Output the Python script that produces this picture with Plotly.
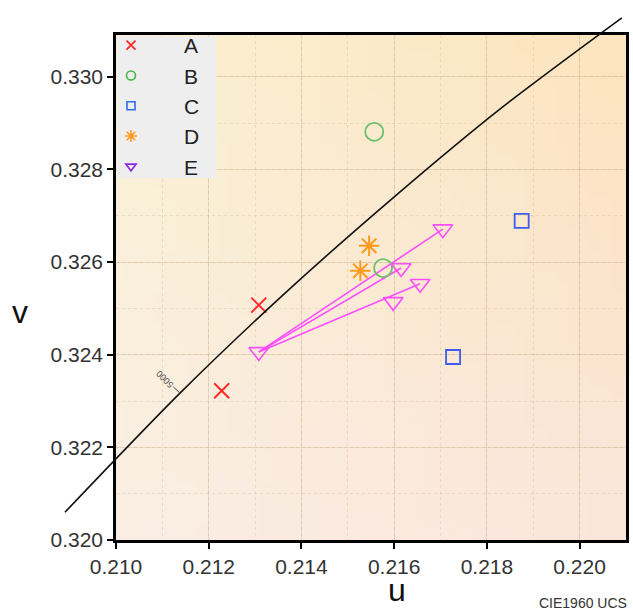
import zlib, struct, base64
import plotly.graph_objects as go

# ---------------- data ----------------
a_u = [0.21228, 0.21308]
a_v = [0.32322, 0.32507]
b_u = [0.21557, 0.21576]
b_v = [0.32881, 0.32587]
c_u = [0.21875, 0.21727]
c_v = [0.32689, 0.32395]
d_u = [0.21546, 0.21527]
d_v = [0.32635, 0.32581]
e_start_u = 0.21308
e_start_v = 0.32406
e_end_u = [0.21705, 0.21615, 0.21656, 0.21598]
e_end_v = [0.32671, 0.32587, 0.32553, 0.32514]
e_linked = [0, 1, 2]          # end points joined to the start point

locus_u = [0.20890, 0.21138, 0.21367, 0.21597, 0.21828, 0.22091]
locus_v = [0.32060, 0.32317, 0.32535, 0.32738, 0.32930, 0.33127]
locus_label = "5000"
locus_label_idx = 1

x_range = [0.210, 0.221]
y_range = [0.320, 0.3309]
x_ticks = [0.210, 0.212, 0.214, 0.216, 0.218, 0.220]
y_ticks = [0.320, 0.322, 0.324, 0.326, 0.328, 0.330]
series_names = ["A", "B", "C", "D", "E"]

# ---------------- layout constants (pixels) ----------------
W, H = 633, 612
PL, PR, PT, PB = 116, 626, 35, 540

FONT = "Liberation Sans, Arial, sans-serif"


def gradient_png(w, h, tl, tr, bl, br):
    rows = []
    for j in range(h):
        fy = j / (h - 1)
        row = bytearray([0])
        for i in range(w):
            fx = i / (w - 1)
            for k in range(3):
                top = tl[k] * (1 - fx) + tr[k] * fx
                bot = bl[k] * (1 - fx) + br[k] * fx
                row.append(int(round(top * (1 - fy) + bot * fy)))
        rows.append(bytes(row))
    raw = b"".join(rows)

    def chunk(t, d):
        return struct.pack(">I", len(d)) + t + d + struct.pack(">I", zlib.crc32(t + d) & 0xffffffff)

    png = (b"\x89PNG\r\n\x1a\n"
           + chunk(b"IHDR", struct.pack(">IIBBBBB", w, h, 8, 2, 0, 0, 0))
           + chunk(b"IDAT", zlib.compress(raw, 9))
           + chunk(b"IEND", b""))
    return "data:image/png;base64," + base64.b64encode(png).decode()


bg_src = gradient_png(48, 48, (250, 241, 211), (252, 228, 190), (250, 238, 228), (251, 229, 219))

RED, GREEN, BLUE, ORANGE, MAGENTA, PURPLE = "#ff2a2a", "#6cc06c", "#3f5cf0", "#ff9a1f", "#ff4dff", "#8a2be2"

fig = go.Figure()

# E arrows
ex, ey = [], []
for i in e_linked:
    ex += [e_start_u, e_end_u[i], None]
    ey += [e_start_v, e_end_v[i], None]
fig.add_trace(go.Scatter(x=ex, y=ey, mode="lines", line=dict(color=MAGENTA, width=1.6),
                         showlegend=False, hoverinfo="skip"))

fig.add_trace(go.Scatter(x=a_u, y=a_v, mode="markers", showlegend=False,
                         marker=dict(symbol="x-thin-open", size=15, color=RED, line=dict(color=RED, width=2))))
fig.add_trace(go.Scatter(x=b_u, y=b_v, mode="markers", showlegend=False,
                         marker=dict(symbol="circle-open", size=18, color=GREEN, line=dict(color=GREEN, width=1.8))))
fig.add_trace(go.Scatter(x=c_u, y=c_v, mode="markers", showlegend=False,
                         marker=dict(symbol="square-open", size=14, color=BLUE, line=dict(color=BLUE, width=1.8))))
fig.add_trace(go.Scatter(x=d_u, y=d_v, mode="markers", showlegend=False,
                         marker=dict(symbol="asterisk-open", size=17, color=ORANGE, line=dict(color=ORANGE, width=2))))
fig.add_trace(go.Scatter(x=[e_start_u] + e_end_u, y=[e_start_v] + e_end_v, mode="markers", showlegend=False,
                         marker=dict(symbol="triangle-down-open", size=17, color=MAGENTA,
                                     line=dict(color=MAGENTA, width=1.6))))

# legend entries
leg_styles = [
    dict(symbol="x-thin-open", size=9, color="#ff2a2a", line=dict(color="#ff2a2a", width=1.8)),
    dict(symbol="circle-open", size=9, color="#44b844", line=dict(color="#44b844", width=1.6)),
    dict(symbol="square-open", size=8, color="#2f6cf0", line=dict(color="#2f6cf0", width=1.6)),
    dict(symbol="asterisk-open", size=10, color=ORANGE, line=dict(color=ORANGE, width=1.6)),
    dict(symbol="triangle-down-open", size=9, color=PURPLE, line=dict(color=PURPLE, width=1.6)),
]
for name, st in zip(series_names, leg_styles):
    fig.add_trace(go.Scatter(x=[None], y=[None], mode="markers", name=name, legendgroup=name,
                             marker=st, showlegend=True))

# Planckian locus on full-figure auxiliary axes (same scale, not clipped by the frame)
fig.add_trace(go.Scatter(x=locus_u, y=locus_v, mode="lines", xaxis="x2", yaxis="y2",
                         line=dict(color="#111111", width=1.6, shape="spline", smoothing=0.8),
                         showlegend=False, hoverinfo="skip"))

kx = (x_range[1] - x_range[0]) / (PR - PL)
ky = (y_range[1] - y_range[0]) / (PB - PT)
x2_range = [x_range[0] - PL * kx, x_range[1] + (W - PR) * kx]
y2_range = [y_range[0] - (H - PB) * ky, y_range[1] + PT * ky]

grid_major = "rgba(200,175,140,0.35)"
grid_minor = "rgba(200,175,140,0.30)"

axis_common = dict(
    showline=True, linecolor="black", linewidth=2.5, mirror=True,
    ticks="outside", ticklen=6, tickwidth=1.5, tickcolor="black",
    tickfont=dict(family=FONT, size=21, color="#333333"),
    showgrid=True, gridcolor=grid_major, gridwidth=1,
    zeroline=False, tickformat=".3f",
    minor=dict(dtick=0.001, showgrid=True, gridcolor=grid_minor, griddash="dot", gridwidth=1, ticks=""),
)

fig.update_layout(
    width=W, height=H,
    margin=dict(l=0, r=0, t=0, b=0, autoexpand=False),
    paper_bgcolor="white", plot_bgcolor="rgba(0,0,0,0)",
    template="none",
    xaxis=dict(domain=[PL / W, PR / W], range=x_range, tickvals=x_ticks, anchor="y", **axis_common),
    yaxis=dict(domain=[1 - PB / H, 1 - PT / H], range=y_range, tickvals=y_ticks, anchor="x", **axis_common),
    xaxis2=dict(domain=[0, 1], range=x2_range, visible=False, anchor="y2", fixedrange=True),
    yaxis2=dict(domain=[0, 1], range=y2_range, visible=False, anchor="x2", fixedrange=True),
    showlegend=True,
    legend=dict(x=78 / W, y=1 - 25 / H, xanchor="left", yanchor="top",
                bgcolor="rgba(0,0,0,0)", borderwidth=0, itemwidth=96, tracegroupgap=0,
                font=dict(family=FONT, size=21, color="#222222"), itemclick=False),
    images=[dict(source=bg_src, xref="x", yref="y", x=x_range[0], y=y_range[1],
                 sizex=x_range[1] - x_range[0], sizey=y_range[1] - y_range[0],
                 sizing="stretch", layer="below", xanchor="left", yanchor="top")],
    shapes=[dict(type="rect", xref="x domain", yref="y domain",
                 xsizemode="pixel", ysizemode="pixel", xanchor=0, yanchor=1,
                 x0=1.3, x1=100, y0=-1.3, y1=-143,
                 fillcolor="#eeeeee", line=dict(width=0), layer="above")],
    annotations=[
        dict(text="u", x=397 / W, y=1 - 590 / H, xref="paper", yref="paper",
             xanchor="center", yanchor="middle",
             showarrow=False, font=dict(family=FONT, size=32, color="#111111")),
        dict(text="v", x=20 / W, y=1 - 312 / H, xref="paper", yref="paper",
             xanchor="center", yanchor="middle",
             showarrow=False, font=dict(family=FONT, size=32, color="#111111")),
        dict(text="CIE1960 UCS", x=629 / W, y=1 - 603 / H, xref="paper", yref="paper",
             xanchor="right", yanchor="middle",
             showarrow=False, font=dict(family=FONT, size=14, color="#333333")),
        dict(text=locus_label, x=locus_u[locus_label_idx], y=locus_v[locus_label_idx],
             xref="x2", yref="y2", showarrow=True, arrowhead=0, arrowwidth=1, arrowcolor="#444444",
             ax=-15, ay=-14, textangle=-135, standoff=0,
             font=dict(family=FONT, size=9, color="#555555")),
    ],
)

fig.write_html("out.html", config={"displayModeBar": False},
               post_script="document.body.style.margin='0px';")
